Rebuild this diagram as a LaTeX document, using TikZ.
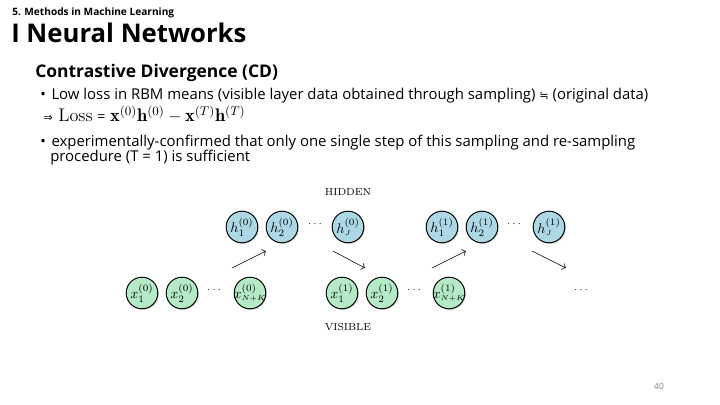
\documentclass[tikz,border=0pt]{standalone}
\usepackage{amsmath}
\usepackage{fontspec}
\usepackage{xcolor}
\usetikzlibrary{arrows.meta,shadows}
\newfontfamily\slidefont{Open Sans}
\newfontfamily\symfont{DejaVu Sans}
\definecolor{hidblue}{HTML}{ADD8E6}
\definecolor{visgreen}{HTML}{B4EAC6}
\tikzset{
  unit/.style={circle,draw,line width=0.7pt,minimum size=0.79cm,inner sep=0pt,
    drop shadow={opacity=0.3,shadow xshift=0.8pt,shadow yshift=-0.8pt}},
  hnode/.style={unit,fill=hidblue},
  vnode/.style={unit,fill=visgreen},
  layer/.style={font=\fontsize{7.2}{8}\selectfont},
  gap/.style={font=\fontsize{7}{8}\selectfont},
  slide/.style={anchor=base west,inner sep=0pt},
  body/.style={slide,font=\slidefont\fontsize{10.6}{12}\selectfont},
}
\newcommand{\lbl}[1]{\makebox[0pt]{$#1$}}
\begin{document}
\begin{tikzpicture}[x=0.025cm,y=-0.025cm,>=To]
\useasboundingbox (0,0) rectangle (720,405);
% slide header
\node[slide,font=\slidefont\bfseries\fontsize{7.2}{9}\selectfont] (sec) at (12,16) {5. Methods in Machine Learning};
\node[slide,font=\slidefont\bfseries\fontsize{18.3}{22}\selectfont] (title) at (11,43) {I Neural Networks};
\node[slide,font=\slidefont\bfseries\fontsize{12.4}{14}\selectfont] (sub) at (35,78) {Contrastive Divergence (CD)};
% bullets
\node[body] (b1) at (40,100) {\textbullet\hspace{4pt}Low loss in RBM means (visible layer data obtained through sampling) {\symfont\fontsize{8}{10}\selectfont ≒} (original data)};
\node[slide,font=\slidefont\fontsize{13}{14}\selectfont] (f1) at (43,122) {{\symfont\fontsize{8}{10}\selectfont ⇒}\hspace{4pt}$\mathrm{Loss}$ {\fontsize{10}{12}\selectfont=} $\mathbf{x}^{(0)}\mathbf{h}^{(0)}-\mathbf{x}^{(T)}\mathbf{h}^{(T)}$};
\node[body] (b2) at (40,147) {\textbullet\hspace{4pt}experimentally-confirmed that only one single step of this sampling and re-sampling};
\node[body] (b2b) at (50,162) {procedure (T = 1) is sufficient};
% hidden layer
\node[layer] (hid) at (348,192) {HIDDEN};
\node[hnode] (h01) at (242,227) {\lbl{h_1^{(0)}}};
\node[hnode] (h02) at (282,227) {\lbl{h_2^{(0)}}};
\node[gap] (h0d) at (316,224) {$\cdots$};
\node[hnode] (h0J) at (348,227) {\lbl{h_{\scriptscriptstyle J}^{(0)}}};
\node[hnode] (h11) at (442,227) {\lbl{h_1^{(1)}}};
\node[hnode] (h12) at (482,227) {\lbl{h_2^{(1)}}};
\node[gap] (h1d) at (515,224) {$\cdots$};
\node[hnode] (h1J) at (549,227) {\lbl{h_{\scriptscriptstyle J}^{(1)}}};
% visible layer
\node[vnode] (x01) at (142,293) {\lbl{x_1^{(0)}}};
\node[vnode] (x02) at (182,293) {\lbl{x_2^{(0)}}};
\node[gap] (x0d) at (215,290) {$\cdots$};
\node[vnode] (x0n) at (250,293) {\lbl{x_{\scriptscriptstyle N+K}^{(0)}}};
\node[vnode] (x11) at (342,293) {\lbl{x_1^{(1)}}};
\node[vnode] (x12) at (382,293) {\lbl{x_2^{(1)}}};
\node[gap] (x1d) at (415,290) {$\cdots$};
\node[vnode] (x1n) at (449,293) {\lbl{x_{\scriptscriptstyle N+K}^{(1)}}};
\node[gap] (x2d) at (582,290) {$\cdots$};
\node[layer] (vis) at (348,327) {VISIBLE};
% sampling steps
\coordinate (up0s) at (232,268); \coordinate (up0e) at (266,251);
\coordinate (dn0s) at (333,251); \coordinate (dn0e) at (365,268);
\coordinate (up1s) at (432,268); \coordinate (up1e) at (466,251);
\coordinate (dn1s) at (532,251); \coordinate (dn1e) at (566,268);
\draw[->,line width=0.4pt](up0s)--(up0e);
\draw[->,line width=0.4pt](dn0s)--(dn0e);
\draw[->,line width=0.4pt](up1s)--(up1e);
\draw[->,line width=0.4pt](dn1s)--(dn1e);
% page number
\node[font=\slidefont\fontsize{6}{7}\selectfont,text=gray] (pg) at (659,386) {40};
\end{tikzpicture}
\end{document}
